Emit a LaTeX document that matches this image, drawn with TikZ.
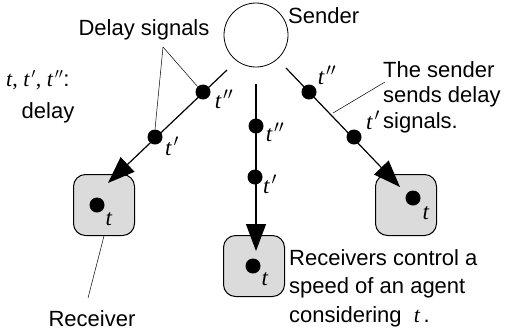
\documentclass[tikz,border=0pt]{standalone}
\usepackage{fontspec}
\setmainfont{Liberation Sans}
\newfontfamily\serifit{Liberation Serif}
\usetikzlibrary{arrows.meta}
\newcommand{\tp}{\textit{t}\kern1.5pt$'$}
\newcommand{\tpp}{\textit{t}\kern1.5pt$''$}
\begin{document}
\begin{tikzpicture}[x=1pt,y=-1pt,
  txt/.style={font=\fontsize{22}{29}\selectfont, inner sep=0pt},
  tl/.style={font=\fontsize{23}{23}\selectfont\serifit, inner sep=0pt},
  dotn/.style={circle, fill=black, minimum size=15pt, inner sep=0pt},
  rbox/.style={draw=black, line width=1pt, fill=gray!28, rounded corners=12pt, minimum width=61pt, minimum height=61pt, inner sep=0pt},
  sig/.style={line width=1.2pt, -{Triangle[length=27pt,width=20pt]}},
  lead/.style={line width=0.5pt}]
\useasboundingbox (0,0) rectangle (511,333);
% sender
\node[draw, circle, minimum size=64pt, inner sep=0pt, line width=0.8pt] (snd) at (256,35) {};
\node[txt, anchor=west] (sndl) at (288,16) {Sender};
% receivers
\node[rbox] (rl) at (104,205) {};
\node[rbox] (rc) at (254,266) {};
\node[rbox] (rr) at (406,205) {};
\node[dotn] (dl) at (97,205) {};
\node[dotn] (dc) at (253,266) {};
\node[dotn] (dr) at (413,198) {};
\node[tl] at (109,219) {\textit{t}};
\node[tl] at (265,279) {\textit{t}};
\node[tl] at (426,213) {\textit{t}};
% line starts and tips
\coordinate (sl) at (227,70);
\coordinate (tlp) at (108,183);
\coordinate (sc) at (256,84);
\coordinate (tcp) at (256,251);
\coordinate (sr) at (286,68);
\coordinate (trp) at (400,187);
\draw[sig] (sl) -- (tlp);
\draw[sig] (sc) -- (tcp);
\draw[sig] (sr) -- (trp);
% signal dots
\node[dotn] (l2) at (203,92) {};
\node[dotn] (l1) at (155,137) {};
\node[dotn] (c2) at (256,126) {};
\node[dotn] (c1) at (255,177) {};
\node[dotn] (r2) at (309,92) {};
\node[dotn] (r1) at (354,137) {};
\node[tl] at (224,99) {\tpp};
\node[tl] at (172,146) {\tp};
\node[tl] at (275,132) {\tpp};
\node[tl] at (270,184) {\tp};
\node[tl] at (327,75) {\tpp};
\node[tl] at (373,120) {\tp};
% labels
\node[txt] (dsig) at (144,30) {Delay signals};
\coordinate (dsj) at (163,47);
\draw[lead] (dsj) -- (l2.north west);
\draw[lead] (dsj) -- (l1.north);
\node[txt, anchor=west] at (6,80) {{\serifit\textit{t}, \tp, \tpp}:};
\node[txt] at (48,113) {delay};
\node[txt, anchor=west] (snt) at (383,70) {The sender};
\node[txt, anchor=west] at (383,97) {sends delay};
\node[txt, anchor=west] at (383,123) {signals.};
\coordinate (sndj) at (385,82);
\coordinate (sndk) at (333,113);
\draw[lead] (sndj) -- (sndk);
\node[txt] (recl) at (92,319) {Receiver};
\draw[lead] (rl.south) -- (88,298);
\node[txt, anchor=west] at (289,258) {Receivers control a};
\node[txt, anchor=west] at (289,288) {speed of an agent};
\node[txt, anchor=west] at (289,317) {considering \ {\serifit\itshape t}\,.};
\end{tikzpicture}
\end{document}
